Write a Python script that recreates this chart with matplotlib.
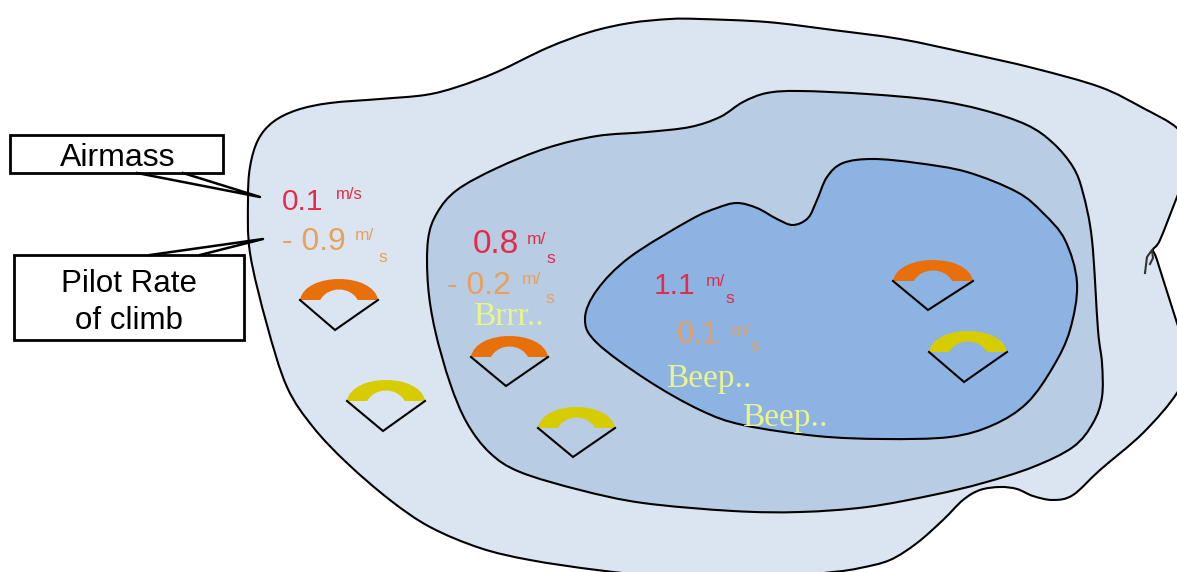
import numpy as np
import matplotlib
matplotlib.use("Agg")
import matplotlib.pyplot as plt
from matplotlib.path import Path
from matplotlib.patches import PathPatch, Rectangle

# contours (pixel coords)
outer_x = [248, 250, 258, 273, 297, 330, 380, 425, 457, 497, 547, 590, 630, 670, 700, 767, 833, 900, 967, 1033, 1100, 1143, 1177, 1188, 1186, 1177, 1160, 1153, 1157, 1177, 1190, 1177, 1143, 1100, 1073, 1053, 1033, 1017, 1000, 980, 963, 943, 917, 890, 860, 833, 760, 660, 597, 530, 480, 430, 390, 347, 313, 287, 267, 250]
outer_y = [200, 167, 140, 122, 110, 103, 99, 95, 87, 72, 48, 32, 23, 19, 19, 22, 30, 39, 53, 68, 87, 108, 128, 150, 175, 197, 240, 250, 260, 323, 360, 393, 433, 470, 495, 500, 496, 489, 487, 490, 500, 520, 543, 560, 568, 572, 578, 576, 570, 560, 548, 527, 500, 463, 427, 387, 325, 253]
middle_x = [428, 437, 457, 497, 547, 597, 647, 690, 720, 743, 767, 800, 867, 933, 983, 1027, 1053, 1073, 1083, 1092, 1098, 1102, 1102, 1093, 1073, 1033, 983, 933, 867, 800, 733, 643, 580, 520, 490, 467, 450, 435, 428]
middle_y = [240, 213, 190, 168, 148, 136, 132, 127, 117, 102, 93, 91, 94, 100, 110, 125, 143, 167, 193, 240, 330, 363, 397, 423, 447, 467, 483, 495, 507, 512, 511, 503, 490, 472, 453, 423, 383, 330, 285]
inner_x = [585, 597, 630, 690, 717, 737, 757, 777, 793, 808, 817, 827, 843, 873, 917, 967, 1017, 1043, 1065, 1077, 1070, 1053, 1027, 993, 950, 883, 817, 743, 700, 647, 597]
inner_y = [319, 290, 257, 220, 208, 203, 208, 219, 225, 218, 200, 177, 163, 159, 163, 172, 192, 213, 240, 283, 330, 367, 403, 425, 437, 439, 436, 425, 410, 380, 343]
squiggle_x = [1145, 1147, 1152, 1153, 1150]
squiggle_y = [273, 257, 250, 258, 264]

# gauges: left corner, right corner, apex
orange_left = [300, 471, 893]
orange_base = [300, 357, 281]
orange_right = [378, 548, 973]
orange_apex_x = [335, 506, 928]
orange_apex_y = [330, 386, 310]
yellow_left = [347, 538, 929]
yellow_base = [401, 428, 352]
yellow_right = [425, 615, 1007]
yellow_apex_x = [383, 573, 964]
yellow_apex_y = [431, 457, 382]

# big rate numbers: x, baseline, unit x, unit baseline, s x, s baseline
red_rates = ["0.8", "1.1"]
red_pos = [(473, 253, 527, 244, 546, 263), (654, 294, 706, 286, 725, 303)]
red_size = [24, 21.5]
orange_rates = ["- 0.9", "- 0.2", "0.1"]
orange_pos = [(282, 250, 355, 240, 378, 262), (447, 294, 522, 284, 545, 303), (677, 343, 731, 336, 750, 351)]
orange_size = [23, 23, 22]
sounds = ["Brrr..", "Beep..", "Beep.."]
sound_x = [473, 666, 742]
sound_y = [325, 387, 426]

OUTER = "#dae5f1"
MIDDLE = "#b8cce4"
INNER = "#8db3e2"
RED = "#e62a45"
ORANGE = "#e8a05c"
PALE = "#eaf48c"
SANS = "Liberation Sans"
SERIF = "Liberation Serif"


def smooth_path(xs, ys):
    # closed catmull-rom through the traced points, as beziers
    p = np.column_stack([xs, ys]).astype(float)
    n = len(p)
    verts = [p[0]]
    codes = [Path.MOVETO]
    for i in range(n):
        p0, p1, p2, p3 = p[i - 1], p[i], p[(i + 1) % n], p[(i + 2) % n]
        verts += [p1 + (p2 - p0) / 6, p2 - (p3 - p1) / 6, p2]
        codes += [Path.CURVE4] * 3
    return Path(verts, codes)


def draw_gauge(ax, left, base, right, apex_x, apex_y, color):
    w = right - left
    rise = 28.0
    band = [(left, base), (left + 0.06 * w, base - rise), (right - 0.06 * w, base - rise), (right, base),
            (left + 0.74 * w, base), (left + 0.64 * w, base - 14), (left + 0.36 * w, base - 14),
            (left + 0.26 * w, base), (left, base)]
    codes = [Path.MOVETO, Path.CURVE4, Path.CURVE4, Path.CURVE4, Path.LINETO, Path.CURVE4, Path.CURVE4, Path.CURVE4, Path.CLOSEPOLY]
    ax.add_patch(PathPatch(Path(band, codes), facecolor=color, edgecolor="none", zorder=4))
    ax.plot([left, apex_x, right], [base, apex_y, base], color="black", lw=1.5, zorder=5, solid_joinstyle="miter")


def draw_rate(ax, label, pos, color, size):
    x, y, ux, uy, sx, sy = pos
    ax.text(x, y, label, color=color, fontsize=size, family=SANS, va="baseline", zorder=6)
    ax.text(ux, uy, "m/", color=color, fontsize=12.5, family=SANS, va="baseline", zorder=6)
    ax.text(sx, sy, "s", color=color, fontsize=12.5, family=SANS, va="baseline", zorder=6)


fig = plt.figure(figsize=(11.77, 5.72), dpi=100)
ax = fig.add_axes([0, 0, 1, 1])
ax.set_xlim(0, 1177)
ax.set_ylim(572, 0)
ax.axis("off")

for xs, ys, col, z in [(outer_x, outer_y, OUTER, 1), (middle_x, middle_y, MIDDLE, 2), (inner_x, inner_y, INNER, 3)]:
    ax.add_patch(PathPatch(smooth_path(xs, ys), facecolor=col, edgecolor="black", lw=1.5, zorder=z))
ax.plot(squiggle_x, squiggle_y, color="#333333", lw=1.5, zorder=3)

for i in range(3):
    draw_gauge(ax, orange_left[i], orange_base[i], orange_right[i], orange_apex_x[i], orange_apex_y[i], "#e8700a")
    draw_gauge(ax, yellow_left[i], yellow_base[i], yellow_right[i], yellow_apex_x[i], yellow_apex_y[i], "#d6cc00")

ax.text(282, 210, "0.1", color=RED, fontsize=21.5, family=SANS, va="baseline", zorder=6)
ax.text(336, 199, "m/s", color=RED, fontsize=12, family=SANS, va="baseline", zorder=6)
for label, pos, size in zip(red_rates, red_pos, red_size):
    draw_rate(ax, label, pos, RED, size)
for label, pos, size in zip(orange_rates, orange_pos, orange_size):
    draw_rate(ax, label, pos, ORANGE, size)
for label, x, y in zip(sounds, sound_x, sound_y):
    ax.text(x, y, label, color=PALE, fontsize=24, family=SERIF, va="baseline", zorder=6)

# callout boxes
ax.add_patch(Rectangle((10, 135), 213, 38, facecolor="white", edgecolor="black", lw=2, zorder=7))
ax.add_patch(Rectangle((14, 255), 230, 85, facecolor="white", edgecolor="black", lw=2, zorder=7))
ax.plot([137, 260, 183], [173, 197, 173], color="black", lw=1.8, zorder=7)
ax.plot([150, 263, 200], [255, 239, 255], color="black", lw=1.8, zorder=7)
ax.text(117.5, 166, "Airmass", fontsize=23, family=SANS, ha="center", va="baseline", zorder=8)
ax.text(129, 292, "Pilot Rate", fontsize=22.5, family=SANS, ha="center", va="baseline", zorder=8)
ax.text(129, 329, "of climb", fontsize=22.5, family=SANS, ha="center", va="baseline", zorder=8)

fig.savefig("out.png", dpi=100)
